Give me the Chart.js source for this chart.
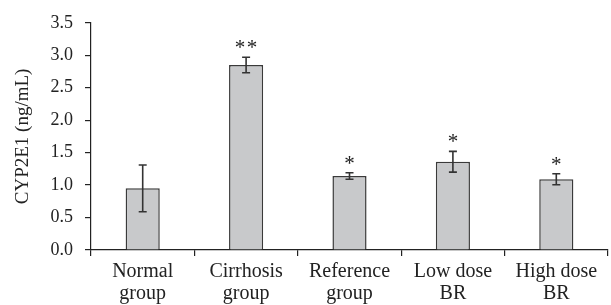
<!DOCTYPE html>
<html><head><meta charset="utf-8">
<script src="https://cdn.jsdelivr.net/npm/chart.js@4/dist/chart.umd.min.js"></script>
<style>html,body{margin:0;padding:0;background:#fff}#wrap{width:611px;height:305px}</style>
</head><body><div id="wrap"><canvas id="c"></canvas></div>
<script>
const categories = [["Normal","group"],["Cirrhosis","group"],["Reference","group"],["Low dose","BR"],["High dose","BR"]];
const means = [0.95, 2.85, 1.14, 1.36, 1.09];
const errors = [0.36, 0.12, 0.05, 0.16, 0.085];
const marks = [0, 2, 1, 1, 1];
const yTicks = [0, 0.5, 1, 1.5, 2, 2.5, 3, 3.5];

const font = "'Liberation Serif', 'DejaVu Serif', serif";

const errPlugin = {
  id: 'err',
  afterDatasetsDraw(chart) {
    const ctx = chart.ctx, x = chart.scales.x, y = chart.scales.y;
    ctx.save();
    ctx.strokeStyle = '#333'; ctx.lineWidth = 1.6;
    means.forEach((m, i) => {
      const px = x.getPixelForValue(i);
      const top = y.getPixelForValue(m + errors[i]);
      const bot = y.getPixelForValue(m - errors[i]);
      ctx.beginPath();
      ctx.moveTo(px, top); ctx.lineTo(px, bot);
      ctx.moveTo(px - 4, top); ctx.lineTo(px + 4, top);
      ctx.moveTo(px - 4, bot); ctx.lineTo(px + 4, bot);
      ctx.stroke();
      const n = marks[i];
      ctx.fillStyle = '#222';
      ctx.font = "21px " + font;
      ctx.textAlign = 'center'; ctx.textBaseline = 'alphabetic';
      for (let k = 0; k < n; k++) {
        const off = (k - (n - 1) / 2) * 12;
        ctx.fillText('*', px + off, top - 3);
      }
    });
    ctx.restore();
  }
};

new Chart(document.getElementById('c'), {
  type: 'bar',
  data: { labels: categories, datasets: [{ data: means, backgroundColor: '#c8c9cb', borderColor: '#3a3a3a', borderWidth: 1.5, barPercentage: 0.33, categoryPercentage: 1 }] },
  options: {
    responsive: true, maintainAspectRatio: false, animation: false,
    layout: { padding: { top: 22, right: 3, left: 0, bottom: 0 } },
    plugins: { legend: { display: false }, tooltip: { enabled: false } },
    scales: {
      x: {
        offset: true,
        grid: { offset: true, drawOnChartArea: false, drawTicks: true, tickLength: 6, color: '#222', lineWidth: 1.2 },
        border: { color: '#222', width: 1.2 },
        ticks: { color: '#222', font: { family: font, size: 20, lineHeight: 1.1 }, padding: 5, maxRotation: 0, autoSkip: false },
        afterFit(s) { s.height = 55; }
      },
      y: {
        min: 0, max: 3.5,
        afterBuildTicks(s) { s.ticks = yTicks.map(v => ({ value: v })); },
        grid: { drawOnChartArea: false, drawTicks: true, tickLength: 6, color: '#222', lineWidth: 1.2 },
        border: { color: '#222', width: 1.2 },
        ticks: { color: '#222', font: { family: font, size: 18 }, padding: 12, callback: v => Number(v).toFixed(1) },
        title: { display: true, text: 'CYP2E1 (ng/mL)', color: '#222', font: { family: font, size: 19 }, padding: { top: 12, bottom: 0 } },
        afterFit(s) { s.width = 91; }
      }
    }
  },
  plugins: [errPlugin]
});
</script></body></html>
